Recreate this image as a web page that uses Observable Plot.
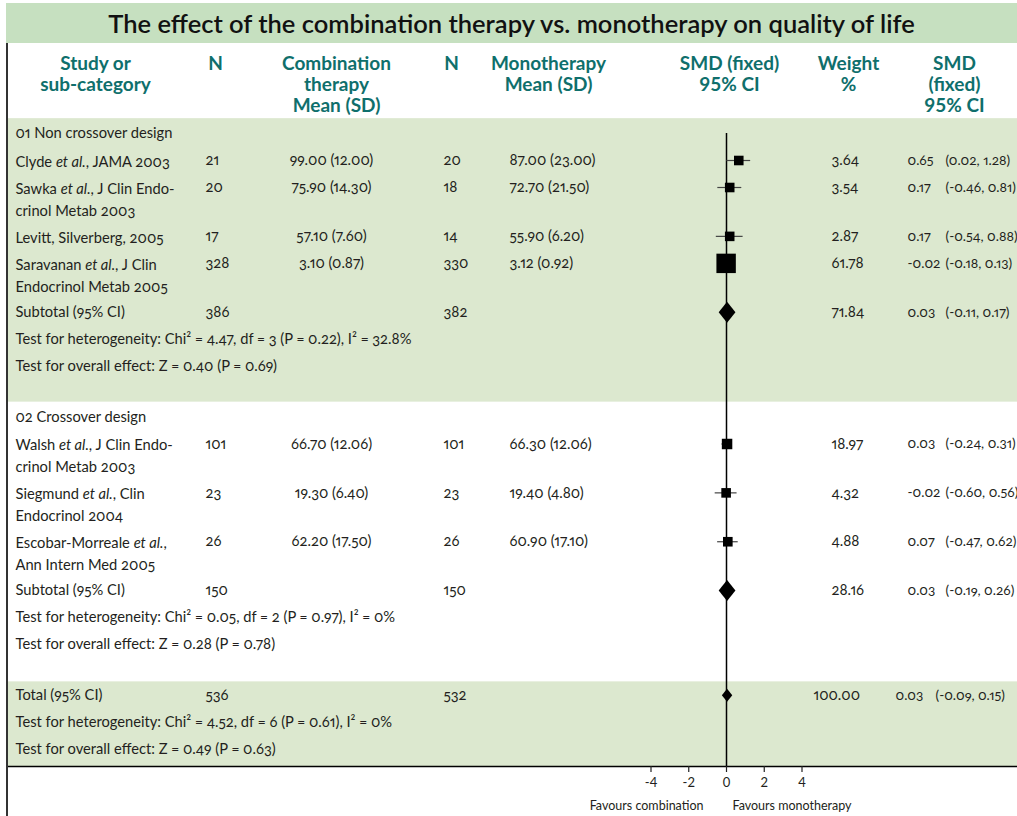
<!DOCTYPE html>
<html><head><meta charset="utf-8">
<script src="https://cdn.jsdelivr.net/npm/d3@7"></script>
<script src="https://cdn.jsdelivr.net/npm/@observablehq/plot@0.6"></script>
<style>
html,body{margin:0;padding:0;background:#fff;}
#wrap{position:relative;width:1017px;height:816px;overflow:hidden;}
#title{position:absolute;left:6px;top:3px;width:1011px;height:40px;background:#c6e0c0;font:600 25.5px Lato, sans-serif;color:#111;text-align:center;line-height:40px;}
#chart{position:absolute;left:0;top:43px;}
#vline{position:absolute;left:6px;top:43px;width:2px;height:773px;background:#333;}
</style></head><body>
<div id="wrap"><div id="title">The effect of the combination therapy vs. monotherapy on quality of life</div><div id="chart"></div><div id="vline"></div></div>
<script>
// ---------------- data ----------------
const groupNames = ["01 Non crossover design", "02 Crossover design"];
const studyNames = [
  "Clyde et al., JAMA 2003",
  "Sawka et al., J Clin Endo-\ncrinol Metab 2003",
  "Levitt, Silverberg, 2005",
  "Saravanan et al., J Clin\nEndocrinol Metab 2005",
  "Walsh et al., J Clin Endo-\ncrinol Metab 2003",
  "Siegmund et al., Clin\nEndocrinol 2004",
  "Escobar-Morreale et al.,\nAnn Intern Med 2005"
];
const studyGroup = [0, 0, 0, 0, 1, 1, 1];
const nComb = [21, 20, 17, 328, 101, 23, 26];
const meanComb = [99.00, 75.90, 57.10, 3.10, 66.70, 19.30, 62.20];
const sdComb = [12.00, 14.30, 7.60, 0.87, 12.06, 6.40, 17.50];
const nMono = [20, 18, 14, 330, 101, 23, 26];
const meanMono = [87.00, 72.70, 55.90, 3.12, 66.30, 19.40, 60.90];
const sdMono = [23.00, 21.50, 6.20, 0.92, 12.06, 4.80, 17.10];
const weight = [3.64, 3.54, 2.87, 61.78, 18.97, 4.32, 4.88];
const smd = [0.65, 0.17, 0.17, -0.02, 0.03, -0.02, 0.07];
const ciLow = [0.02, -0.46, -0.54, -0.18, -0.24, -0.60, -0.47];
const ciHigh = [1.28, 0.81, 0.88, 0.13, 0.31, 0.56, 0.62];

const subNComb = [386, 150];
const subNMono = [382, 150];
const subWeight = [71.84, 28.16];
const subSMD = [0.03, 0.03];
const subLow = [-0.11, -0.19];
const subHigh = [0.17, 0.26];
const subHet = ["Chi² = 4.47, df = 3 (P = 0.22), I² = 32.8%", "Chi² = 0.05, df = 2 (P = 0.97), I² = 0%"];
const subZ = ["Z = 0.40 (P = 0.69)", "Z = 0.28 (P = 0.78)"];

const totalNComb = 536, totalNMono = 532, totalWeight = 100.00;
const totalSMD = 0.03, totalLow = -0.09, totalHigh = 0.15;
const totalHet = "Chi² = 4.52, df = 6 (P = 0.61), I² = 0%";
const totalZ = "Z = 0.49 (P = 0.63)";

const xTicks = [-4, -2, 0, 2, 4];
const headers = ["Study or\nsub-category", "N", "Combination\ntherapy\nMean (SD)", "N",
                 "Monotherapy\nMean (SD)", "SMD (fixed)\n95% CI", "Weight\n%", "SMD\n(fixed)\n95% CI"];
const favourLabels = ["Favours combination", "Favours monotherapy"];

// ---------------- layout (in text-line units) ----------------
const PX = 27;                       // pixels per text line
const TOP_U = -90 / PX, BOTTOM_U = 633 / PX;
const HEAD_U = -71 / PX;
const HEAD_X = [95, 215, 336, 451, 548, 729, 848, 954];
const COL = {name: 15, nC: 205, mC: 331, nM: 443, mM: 509, w: 831, smd: 907, ci: 945};
const TCOL = {w: 813, smd: 895, ci: 935};

const f2 = v => v.toFixed(2);
const ci = (lo, hi) => `(${f2(lo)}, ${f2(hi)})`;

const groupRows = [], studyRows = [], sumRows = [], testRows = [], bands = [];
let u = 0;
groupNames.forEach((g, gi) => {
  const start = u;
  groupRows.push({text: g, u}); u += 1;
  studyNames.forEach((name, i) => {
    if (studyGroup[i] !== gi) return;
    studyRows.push({name, u, nC: nComb[i], mC: `${f2(meanComb[i])} (${f2(sdComb[i])})`,
      nM: nMono[i], mM: `${f2(meanMono[i])} (${f2(sdMono[i])})`, w: weight[i],
      smd: smd[i], lo: ciLow[i], hi: ciHigh[i]});
    u += name.includes("\n") ? 1.81 : 1;
  });
  sumRows.push({label: "Subtotal (95% CI)", u, nC: subNComb[gi], nM: subNMono[gi], w: subWeight[gi],
    smd: subSMD[gi], lo: subLow[gi], hi: subHigh[gi]});
  u += 1;
  testRows.push({text: "Test for heterogeneity: " + subHet[gi], u}); u += 1;
  testRows.push({text: "Test for overall effect: " + subZ[gi], u});
  u += 1.88;
  if (gi === 0) bands.push({y1: start - 0.55, y2: u - 0.55});
});
bands.push({y1: u - 0.5, y2: BOTTOM_U});
const totalRow = {label: "Total (95% CI)", u, nC: totalNComb, nM: totalNMono, w: totalWeight,
  smd: totalSMD, lo: totalLow, hi: totalHigh};
u += 1;
testRows.push({text: "Test for heterogeneity: " + totalHet, u}); u += 1;
testRows.push({text: "Test for overall effect: " + totalZ, u});

// custom diamond (wider than d3's)
const diamond = {draw(ctx, size) {
  const h = Math.sqrt(size / Math.PI), w = h * 0.8;
  ctx.moveTo(0, -h); ctx.lineTo(w, 0); ctx.lineTo(0, h); ctx.lineTo(-w, 0); ctx.closePath();
}};

const INK = "#231f20", TEAL = "#0f6f6c";
const FS = 14.7;
const txt = (data, text, dx, anchor = "start", extra = {}) =>
  Plot.text(data, {y: "u", text, frameAnchor: "left", dx, textAnchor: anchor, fontSize: FS, fill: INK,
    fontVariant: "oldstyle-nums proportional-nums", ...extra});
const numOpt = {fontSize: 13.6};

const marks = [
  Plot.rect(bands, {y1: "y1", y2: "y2", fill: "#dce8cf", insetLeft: 8}),
  ...headers.map((h, i) => Plot.text([h], {y: () => HEAD_U, text: d => d, frameAnchor: "left", dx: HEAD_X[i],
    textAnchor: "middle", lineAnchor: "top", dy: -7, lineHeight: 1.1, fontSize: 19, fontWeight: "bold", fill: TEAL})),
  txt(groupRows, "text", COL.name),
  txt(studyRows, "name", COL.name, "start", {lineAnchor: "top", dy: -9.3, lineHeight: 1.5}),
  txt(studyRows, d => String(d.nC), COL.nC),
  txt(studyRows, "mC", COL.mC, "middle"),
  txt(studyRows, d => String(d.nM), COL.nM),
  txt(studyRows, "mM", COL.mM),
  txt(studyRows, d => f2(d.w), COL.w),
  txt(studyRows, d => f2(d.smd), COL.smd, "start", numOpt),
  txt(studyRows, d => ci(d.lo, d.hi), COL.ci, "start", numOpt),
  txt(sumRows, "label", COL.name),
  txt(sumRows, d => String(d.nC), COL.nC),
  txt(sumRows, d => String(d.nM), COL.nM),
  txt(sumRows, d => f2(d.w), COL.w),
  txt(sumRows, d => f2(d.smd), COL.smd, "start", numOpt),
  txt(sumRows, d => ci(d.lo, d.hi), COL.ci, "start", numOpt),
  txt([totalRow], "label", COL.name),
  txt([totalRow], d => String(d.nC), COL.nC),
  txt([totalRow], d => String(d.nM), COL.nM),
  txt([totalRow], d => f2(d.w), TCOL.w),
  txt([totalRow], d => f2(d.smd), TCOL.smd, "start", numOpt),
  txt([totalRow], d => ci(d.lo, d.hi), TCOL.ci, "start", numOpt),
  txt(testRows, "text", COL.name),
  // forest
  Plot.ruleX([0], {x: d => d, y1: 0, y2: BOTTOM_U, stroke: "#000", strokeWidth: 1.5}),
  Plot.ruleY(studyRows, {y: "u", x1: "lo", x2: "hi", stroke: "#444", strokeWidth: 1.2}),
  Plot.dot(studyRows, {x: "smd", y: "u", r: "w", symbol: "square", fill: "#000", stroke: null}),
  Plot.dot(sumRows, {x: "smd", y: "u", r: 10.5, symbol: diamond, fill: "#000", stroke: null}),
  Plot.dot([totalRow], {x: "smd", y: "u", r: 6.5, symbol: diamond, fill: "#000", stroke: null}),
  Plot.ruleY([BOTTOM_U], {stroke: "#000", strokeWidth: 1.5, insetLeft: 8}),
  Plot.axisX({ticks: xTicks, tickFormat: d => String(d), tickSize: 6, tickPadding: 5, fontSize: 13,
    stroke: "#222", strokeWidth: 1.2, fill: INK, label: null}),
  Plot.text([0], {x: d => d, text: () => favourLabels[0], frameAnchor: "bottom", dy: 43, dx: -23,
    textAnchor: "end", fontSize: 12.5, fill: INK}),
  Plot.text([0], {x: d => d, text: () => favourLabels[1], frameAnchor: "bottom", dy: 43, dx: 6,
    textAnchor: "start", fontSize: 12.5, fill: INK})
];

const chart = Plot.plot({
  width: 1017, height: 773,
  marginTop: 0, marginBottom: 50, marginLeft: 0, marginRight: 0,
  x: {domain: [-4, 4], range: [650.5, 801.5], label: null},
  y: {domain: [TOP_U, BOTTOM_U], reverse: true, axis: null},
  r: {type: "pow", exponent: 2, domain: [3, 62], range: [5.4, 11]},
  style: {fontFamily: "Lato, sans-serif", background: "transparent", overflow: "visible", color: INK},
  marks
});

// italicise "et al."
(function italicize(root) {
  const walker = document.createTreeWalker(root, NodeFilter.SHOW_TEXT);
  const nodes = [];
  while (walker.nextNode()) if (walker.currentNode.nodeValue.includes("et al.")) nodes.push(walker.currentNode);
  for (const n of nodes) {
    const parts = n.nodeValue.split("et al.");
    const frag = document.createDocumentFragment();
    parts.forEach((p, i) => {
      if (i) {
        const t = document.createElementNS("http://www.w3.org/2000/svg", "tspan");
        t.setAttribute("font-style", "italic");
        t.textContent = "et al.";
        frag.appendChild(t);
      }
      if (p) frag.appendChild(document.createTextNode(p));
    });
    n.parentNode.replaceChild(frag, n);
  }
})(chart);

document.getElementById("chart").appendChild(chart);
</script>
</body></html>
